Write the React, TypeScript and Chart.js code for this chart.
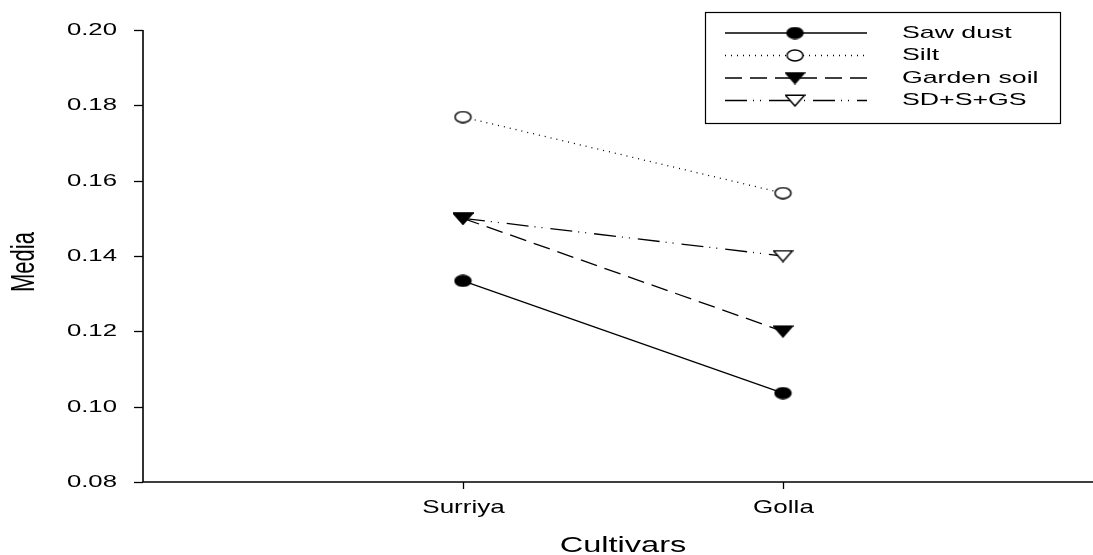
import React, { useEffect, useRef } from "react";
import { Chart, registerables } from "chart.js";

Chart.register(...registerables);

const cultivars = ["Surriya", "Golla"];
const cultivarPos = [1, 2];
const seriesNames = ["Saw dust", "Silt", "Garden soil", "SD+S+GS"];
const sawDust = [0.1334, 0.1036];
const silt = [0.1769, 0.1567];
const gardenSoil = [0.15, 0.12];
const sdSGs = [0.15, 0.14];
const yTickValues = [0.08, 0.1, 0.12, 0.14, 0.16, 0.18, 0.2];
const xTitle = "Cultivars";
const yTitle = "Media";

const FONT = '"Liberation Sans", Arial, sans-serif';

function makeMarker(kind: string): HTMLCanvasElement {
  const c = document.createElement("canvas");
  const w = kind.startsWith("tri") ? 21 : 19;
  const h = 13;
  c.width = w;
  c.height = h;
  const g = c.getContext("2d")!;
  g.lineWidth = 1.5;
  g.strokeStyle = "#000";
  g.fillStyle = kind.endsWith("Open") ? "#fff" : "#000";
  g.beginPath();
  if (kind.startsWith("circle")) {
    g.ellipse(w / 2, h / 2, 8, 5.4, 0, 0, Math.PI * 2);
  } else {
    g.moveTo(1, 1.2);
    g.lineTo(w - 1, 1.2);
    g.lineTo(w / 2, h - 1);
    g.closePath();
  }
  g.fill();
  g.stroke();
  return c;
}

function drawText(
  ctx: CanvasRenderingContext2D,
  s: string,
  x: number,
  y: number,
  size: number,
  sx: number,
  align: CanvasTextAlign,
  rotate = false
) {
  ctx.save();
  ctx.translate(x, y);
  ctx.scale(sx, 1);
  if (rotate) ctx.rotate(-Math.PI / 2);
  ctx.font = `${size}px ${FONT}`;
  ctx.fillStyle = "#000";
  ctx.textAlign = align;
  ctx.textBaseline = "middle";
  ctx.fillText(s, 0, 0);
  ctx.restore();
}

export default function App() {
  const ref = useRef<HTMLCanvasElement | null>(null);

  useEffect(() => {
    if (!ref.current) return;
    const markers = [
      makeMarker("circleFilled"),
      makeMarker("circleOpen"),
      makeMarker("triFilled"),
      makeMarker("triOpen"),
    ];
    const dashes: number[][] = [[], [1, 5], [17, 8], [22, 6, 1, 6, 1, 8]];
    const seriesValues = [sawDust, silt, gardenSoil, sdSGs];

    const axesPlugin = {
      id: "axesPlugin",
      beforeDatasetsDraw(chart: any) {
        const ctx: CanvasRenderingContext2D = chart.ctx;
        const { left, right, top, bottom } = chart.chartArea;
        const xs = chart.scales.x;
        const ys = chart.scales.y;
        ctx.save();
        ctx.strokeStyle = "#000";
        ctx.lineWidth = 1.6;
        ctx.beginPath();
        ctx.moveTo(left, top);
        ctx.lineTo(left, bottom);
        ctx.lineTo(right, bottom);
        ctx.stroke();
        ctx.lineWidth = 1.3;
        yTickValues.forEach((v) => {
          const py = Math.round(ys.getPixelForValue(v)) + 0.5;
          ctx.beginPath();
          ctx.moveTo(left - 9, py);
          ctx.lineTo(left, py);
          ctx.stroke();
          drawText(ctx, v.toFixed(2), left - 26, py, 16.5, 1.56, "right");
        });
        cultivarPos.forEach((p, i) => {
          const px = Math.round(xs.getPixelForValue(p)) + 0.5;
          ctx.beginPath();
          ctx.moveTo(px, bottom);
          ctx.lineTo(px, bottom + 7);
          ctx.stroke();
          drawText(ctx, cultivars[i], px, bottom + 26, 19, 1.37, "center");
        });
        const midX = (xs.getPixelForValue(cultivarPos[0]) + xs.getPixelForValue(cultivarPos[1])) / 2;
        drawText(ctx, xTitle, midX, bottom + 64, 22, 1.48, "center");
        drawText(ctx, yTitle, 25, (top + bottom) / 2 + 6, 22, 1.55, "center", true);
        ctx.restore();
      },
      afterDraw(chart: any) {
        const ctx: CanvasRenderingContext2D = chart.ctx;
        ctx.save();
        ctx.strokeStyle = "#000";
        ctx.lineWidth = 1.2;
        ctx.strokeRect(705.5, 12.5, 355, 111);
        const rows = [33, 55.5, 78, 100.5];
        seriesNames.forEach((name, i) => {
          const y = rows[i];
          ctx.save();
          ctx.lineWidth = 1.3;
          ctx.setLineDash(dashes[i]);
          ctx.beginPath();
          ctx.moveTo(725, y);
          ctx.lineTo(867, y);
          ctx.stroke();
          ctx.restore();
          const m = markers[i];
          ctx.drawImage(m, 795 - m.width / 2, y - m.height / 2);
          drawText(ctx, name, 902, y, 17, 1.57, "left");
        });
        ctx.restore();
      },
    };

    const chart = new Chart(ref.current, {
      type: "line",
      data: {
        datasets: seriesNames.map((name, i) => ({
          label: name,
          data: cultivarPos.map((p, j) => ({ x: p, y: seriesValues[i][j] })),
          borderColor: "#000",
          backgroundColor: "#000",
          borderWidth: 1.3,
          borderDash: dashes[i],
          pointStyle: markers[i] as any,
          pointRadius: 8,
          pointHoverRadius: 8,
          fill: false,
          tension: 0,
          clip: false as any,
        })),
      },
      options: {
        animation: false,
        responsive: false,
        events: [],
        layout: { autoPadding: false, padding: { left: 143, top: 30, right: 0, bottom: 73 } },
        plugins: { legend: { display: false }, tooltip: { enabled: false }, title: { display: false } },
        scales: {
          x: { type: "linear", display: false, min: 0, max: 950 / 320 },
          y: { type: "linear", display: false, min: 0.08, max: 0.2 },
        },
      },
      plugins: [axesPlugin],
    });
    return () => chart.destroy();
  }, []);

  return (
    <div style={{ position: "fixed", left: 0, top: 0, width: 1093, height: 555, background: "#fff" }}>
      <canvas ref={ref} width={1093} height={555} style={{ display: "block", width: 1093, height: 555 }} />
    </div>
  );
}
